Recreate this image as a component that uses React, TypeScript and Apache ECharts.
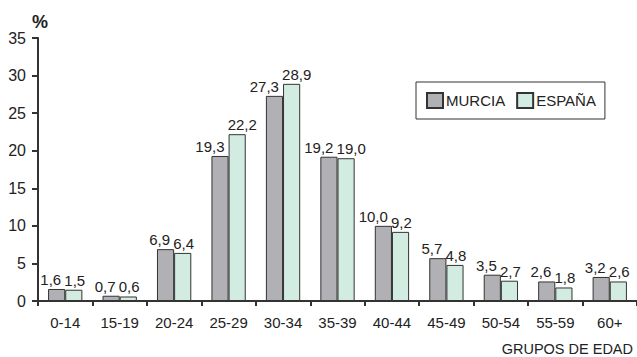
import React, { useEffect, useRef } from "react";
import * as echarts from "echarts";

const categories = ["0-14", "15-19", "20-24", "25-29", "30-34", "35-39", "40-44", "45-49", "50-54", "55-59", "60+"];
const murcia = [1.6, 0.7, 6.9, 19.3, 27.3, 19.2, 10.0, 5.7, 3.5, 2.6, 3.2];
const espana = [1.5, 0.6, 6.4, 22.2, 28.9, 19.0, 9.2, 4.8, 2.7, 1.8, 2.6];
const seriesNames = ["MURCIA", "ESPAÑA"];

const FONT = "'Liberation Sans', Arial, Helvetica, sans-serif";
const fmt = (v: number) => v.toFixed(1).replace(".", ",");

export default function App() {
  const ref = useRef<HTMLDivElement>(null);
  useEffect(() => {
    const chart = echarts.init(ref.current!, null, { renderer: "svg" });
    const baseLabel = {
      show: true,
      position: "top" as const,
      distance: 2,
      fontFamily: FONT,
      fontSize: 15,
      color: "#222",
      formatter: (p: any) => fmt(p.value),
    };
    chart.setOption({
      animation: false,
      backgroundColor: "#fff",
      textStyle: { fontFamily: FONT },
      grid: { left: 38, right: 0, top: 38, bottom: 56 },
      title: {
        text: "%",
        left: 27,
        top: 8,
        textStyle: { fontFamily: FONT, fontSize: 18, fontWeight: "bold", color: "#222" },
      },
      graphic: [
        {
          type: "text",
          right: 4,
          top: 341,
          style: { text: "GRUPOS DE EDAD", fontFamily: FONT, fontSize: 14.5, fill: "#222" },
        },
      ],
      legend: {
        data: seriesNames,
        left: 416,
        top: 82,
        orient: "horizontal",
        icon: "rect",
        itemWidth: 16,
        itemHeight: 15,
        itemGap: 11,
        padding: [10, 9, 10, 10],
        borderColor: "#333",
        borderWidth: 1,
        borderRadius: 0,
        textStyle: { fontFamily: FONT, fontSize: 15, color: "#222", padding: [0, 0, 0, -2] },
      },
      xAxis: {
        type: "category",
        data: categories,
        axisLine: { lineStyle: { color: "#333", width: 2 } },
        axisTick: { show: true, length: 5, lineStyle: { color: "#333", width: 2 } },
        axisLabel: { fontFamily: FONT, fontSize: 15, color: "#222", margin: 14 },
      },
      yAxis: {
        type: "value",
        min: 0,
        max: 35,
        interval: 5,
        splitLine: { show: false },
        axisLine: { show: true, lineStyle: { color: "#333", width: 2 } },
        axisTick: { show: true, length: 6, lineStyle: { color: "#333", width: 2 } },
        axisLabel: { fontFamily: FONT, fontSize: 16, color: "#222", margin: 12 },
      },
      series: [
        {
          name: seriesNames[0],
          type: "bar",
          data: murcia,
          barGap: "0%",
          barCategoryGap: "37%",
          itemStyle: { color: "#b1b1b5", borderColor: "#333", borderWidth: 1 },
          label: { ...baseLabel, align: "right", offset: [4.5, 0] },
        },
        {
          name: seriesNames[1],
          type: "bar",
          data: espana,
          itemStyle: { color: "#d2ece2", borderColor: "#333", borderWidth: 1 },
          label: { ...baseLabel, align: "left", offset: [-9.5, 0] },
        },
      ],
    });
    return () => chart.dispose();
  }, []);
  return <div ref={ref} style={{ width: 637, height: 357, position: "absolute", left: 0, top: 0 }} />;
}
